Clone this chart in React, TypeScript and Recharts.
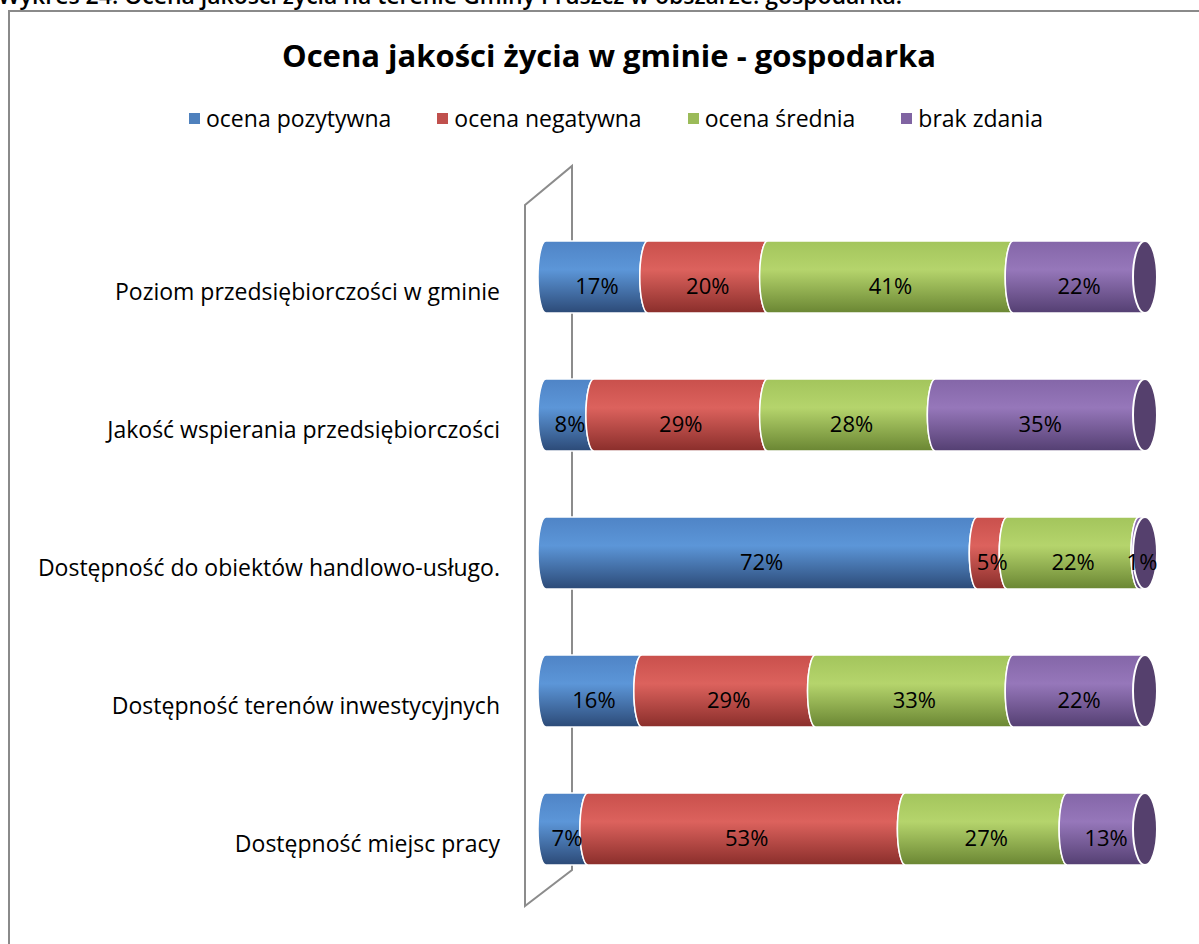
import React from 'react';
import { BarChart, Bar, XAxis, YAxis, LabelList } from 'recharts';

const categories = [
  'Poziom przedsiębiorczości w gminie',
  'Jakość wspierania przedsiębiorczości',
  'Dostępność do obiektów handlowo-usługo.',
  'Dostępność terenów inwestycyjnych',
  'Dostępność miejsc pracy',
];

const pozytywna = [17, 8, 72, 16, 7];
const negatywna = [20, 29, 5, 29, 53];
const srednia = [41, 28, 22, 33, 27];
const brakZdania = [22, 35, 1, 22, 13];

const seriesNames = ['ocena pozytywna', 'ocena negatywna', 'ocena średnia', 'brak zdania'];

const palette = [
  { key: 'poz', base: '#4F81BD', top: '#4f84c6', mid: '#5c96d8', bottom: '#2c4a77' },
  { key: 'neg', base: '#C0504D', top: '#c9504c', mid: '#dc625d', bottom: '#8a2e2b' },
  { key: 'sre', base: '#9BBB59', top: '#a3c55c', mid: '#b5d46c', bottom: '#6a8633' },
  { key: 'brak', base: '#8064A2', top: '#8466a8', mid: '#9677ba', bottom: '#543f72' },
];

const chartData = categories.map((name, i) => ({
  name,
  poz: pozytywna[i],
  neg: negatywna[i],
  sre: srednia[i],
  brak: brakZdania[i],
}));

const FONT = '"Open Sans", "Noto Sans", sans-serif';

function Segment(props: any) {
  const { x, y, width, height, fill, cap } = props;
  if (width == null || height == null) return null;
  const rx = 8;
  const ry = height / 2;
  const x2 = x + width;
  const b = y + height;
  const d = `M ${x} ${y} L ${x2} ${y} A ${rx} ${ry} 0 0 0 ${x2} ${b} L ${x} ${b} A ${rx} ${ry} 0 0 1 ${x} ${y} Z`;
  return (
    <g>
      <path d={d} fill={fill} stroke="#ffffff" strokeWidth={1.5} />
      {cap && (
        <ellipse cx={x2} cy={y + ry} rx={12} ry={ry} fill="#55406d" stroke="#ffffff" strokeWidth={2} />
      )}
    </g>
  );
}

function ValueLabel(props: any) {
  const { x, y, width, height, value } = props;
  if (x == null || width == null) return null;
  return (
    <text x={x + width / 2} y={y + height / 2 + 17} textAnchor="middle" fontSize={22} fill="#000" fontFamily={FONT}>
      {`${value}%`}
    </text>
  );
}

function CategoryTick(props: any) {
  const { x, y, payload } = props;
  return (
    <text x={x - 38} y={y} dy={23} textAnchor="end" fontSize={23} fill="#000" fontFamily={FONT}>
      {payload.value}
    </text>
  );
}

export default function App() {
  return (
    <div style={{ position: 'absolute', left: 0, top: 0, width: 1199, height: 944, overflow: 'hidden', background: '#fff', fontFamily: FONT }}>
      <svg width={1199} height={20} style={{ position: 'absolute', left: 0, top: 0 }}>
        <text x={-2} y={4} fontSize={23} fontWeight={600} fill="#000" fontFamily={FONT}>
          Wykres 24. Ocena jakości życia na terenie Gminy Pruszcz w obszarze: gospodarka.
        </text>
      </svg>
      <div style={{ position: 'absolute', left: 8, top: 10, width: 1250, height: 1000, border: '2px solid #8a8a8a', boxSizing: 'border-box' }} />
      <div style={{ position: 'absolute', left: 0, top: 34, width: 1218, textAlign: 'center', fontSize: 31, fontWeight: 700, color: '#000' }}>
        Ocena jakości życia w gminie - gospodarka
      </div>
      <div style={{ position: 'absolute', left: 0, top: 102, width: 1232, display: 'flex', justifyContent: 'center', gap: 46, fontSize: 23, color: '#000' }}>
        {seriesNames.map((n, i) => (
          <span key={n} style={{ display: 'flex', alignItems: 'center' }}>
            <span style={{ width: 11, height: 11, background: palette[i].base, display: 'inline-block', marginRight: 6 }} />
            {n}
          </span>
        ))}
      </div>
      <svg width={1199} height={944} style={{ position: 'absolute', left: 0, top: 0 }}>
        <polygon points="525,205 572,166 572,870 525,906" fill="none" stroke="#8c8c8c" strokeWidth={2} />
      </svg>
      <div style={{ position: 'absolute', left: 0, top: 0 }}>
        <BarChart
          width={1199}
          height={944}
          data={chartData}
          layout="vertical"
          barCategoryGap={0}
          margin={{ top: 208, right: 54, bottom: 46, left: 8 }}
        >
          <defs>
            {palette.map((p) => (
              <linearGradient key={p.key} id={`grad-${p.key}`} x1="0" y1="0" x2="0" y2="1">
                <stop offset="0%" stopColor={p.top} />
                <stop offset="40%" stopColor={p.mid} />
                <stop offset="100%" stopColor={p.bottom} />
              </linearGradient>
            ))}
          </defs>
          <XAxis type="number" domain={[0, 100]} hide />
          <YAxis
            type="category"
            dataKey="name"
            width={538}
            axisLine={false}
            tickLine={false}
            tick={<CategoryTick />}
          />
          {palette.map((p, i) => (
            <Bar
              key={p.key}
              dataKey={p.key}
              name={seriesNames[i]}
              stackId="a"
              barSize={72}
              fill={`url(#grad-${p.key})`}
              isAnimationActive={false}
              shape={(props: any) => <Segment {...props} cap={i === palette.length - 1} />}
            >
              <LabelList dataKey={p.key} content={<ValueLabel />} />
            </Bar>
          ))}
        </BarChart>
      </div>
    </div>
  );
}
